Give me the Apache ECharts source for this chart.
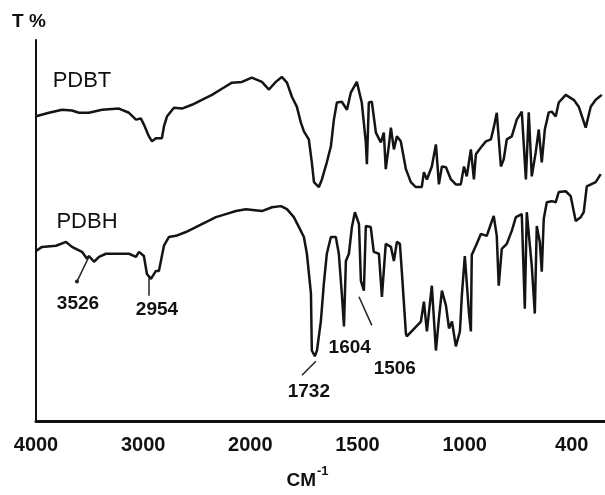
<!DOCTYPE html>
<html><head><meta charset="utf-8">
<script src="https://cdn.jsdelivr.net/npm/echarts@6/dist/echarts.min.js"></script>
<style>html,body{margin:0;padding:0;background:#fff}#c{width:605px;height:495px}</style>
</head><body><div id="c"></div>
<script>
// Tick labels (cm^-1), equally spaced on the drawn axis
const tickLabels = ['4000','3000','2000','1500','1000','400'];
const tickWavenumbers = [4000,3000,2000,1500,1000,400];

// Spectra: [wavenumber cm^-1, transmittance (arbitrary %)]
const pdbt = [[4000,80.0],[3879,80.9],[3757,81.7],[3664,81.5],[3599,80.9],[3506,80.9],[3384,81.7],[3226,82.0],[3132,80.9],[3067,79.1],[3021,79.4],[2993,77.8],[2946,74.7],[2918,73.4],[2881,74.2],[2825,74.2],[2806,77.3],[2778,79.9],[2713,82.2],[2638,82.0],[2545,83.0],[2452,84.3],[2358,85.6],[2265,87.2],[2172,88.8],[2078,89.0],[1993,90.1],[1946,89.0],[1913,87.0],[1881,89.0],[1853,90.3],[1829,88.8],[1806,85.1],[1783,82.5],[1764,78.3],[1750,76.0],[1727,73.9],[1713,67.9],[1703,62.7],[1680,61.4],[1666,63.4],[1643,67.9],[1624,72.1],[1610,79.1],[1596,83.6],[1573,83.8],[1549,81.7],[1531,86.2],[1503,89.0],[1480,83.6],[1461,73.1],[1456,67.4],[1447,83.6],[1433,83.8],[1414,75.7],[1391,73.1],[1377,75.7],[1368,66.1],[1354,72.1],[1344,77.0],[1330,71.3],[1316,74.7],[1298,73.4],[1274,66.1],[1251,62.7],[1228,61.4],[1200,61.4],[1190,65.3],[1176,63.4],[1153,66.8],[1134,72.6],[1120,62.1],[1106,66.8],[1087,66.6],[1064,63.4],[1041,62.1],[1018,62.1],[1003,66.8],[988,64.2],[965,71.3],[948,63.4],[937,70.0],[909,71.8],[881,73.4],[853,73.9],[837,77.0],[820,80.9],[797,66.8],[781,68.7],[764,73.9],[736,74.7],[708,79.1],[680,81.2],[657,63.4],[641,81.0],[624,64.2],[602,70.5],[585,76.5],[568,67.9],[551,76.5],[529,81.0],[512,81.2],[490,79.9],[473,83.6],[434,85.6],[389,84.3],[361,82.5],[322,77.0],[294,82.5],[266,84.3],[232,85.6]];

const pdbh = [[4000,44.6],[3944,45.7],[3813,46.0],[3720,47.0],[3664,45.7],[3571,44.4],[3524,42.6],[3506,43.3],[3459,41.8],[3412,43.1],[3347,43.9],[3132,43.9],[3067,43.1],[3039,44.4],[2993,43.3],[2965,38.6],[2927,37.3],[2881,39.4],[2853,39.4],[2825,43.3],[2806,46.0],[2759,48.3],[2694,48.6],[2601,49.6],[2508,50.9],[2414,52.2],[2321,53.5],[2228,54.3],[2134,55.1],[2041,55.6],[1946,55.1],[1899,56.1],[1857,56.4],[1829,55.6],[1797,53.5],[1773,50.9],[1750,48.3],[1736,43.9],[1717,33.4],[1713,18.5],[1699,17.0],[1689,18.5],[1671,26.1],[1657,36.0],[1643,43.9],[1624,48.3],[1601,48.3],[1587,43.9],[1573,33.4],[1563,24.8],[1554,42.0],[1540,43.9],[1526,50.9],[1512,54.8],[1493,51.7],[1484,36.8],[1470,34.2],[1461,51.2],[1438,50.9],[1424,44.4],[1400,43.9],[1386,32.6],[1368,46.5],[1344,45.7],[1330,42.0],[1316,47.0],[1302,46.5],[1293,39.2],[1274,23.0],[1270,22.2],[1204,26.1],[1190,31.3],[1176,23.5],[1153,35.5],[1134,18.5],[1120,26.9],[1106,34.2],[1087,30.3],[1073,24.3],[1059,26.1],[1041,19.6],[1022,23.5],[1013,32.9],[999,43.3],[976,28.5],[965,23.5],[960,43.6],[937,46.0],[909,49.1],[876,48.6],[853,51.7],[837,53.8],[820,48.6],[809,35.5],[792,45.2],[764,46.5],[736,49.9],[713,53.5],[680,54.3],[663,29.5],[652,54.8],[641,55.1],[624,40.7],[607,28.2],[596,51.2],[579,47.0],[568,39.2],[557,53.0],[540,57.4],[512,57.7],[490,57.4],[473,60.1],[434,60.3],[406,59.0],[378,52.5],[350,53.5],[333,54.8],[316,61.6],[266,62.7],[238,64.8]];

// Curve names and their label anchor [wavenumber, T]
const curveNames = ['PDBT','PDBH'];
const curveNameAnchors = [[3571,89.2],[3524,52.3]];

// Peak annotations: text, label anchor [w, T], pointer from/to [w, T]
const peakTexts = ['3526','2954','1732','1604','1506'];
const peakAnchors = [[3608,30.8],[2871,29.2],[1727,7.8],[1536,19.1],[1326,13.8]];
const pointerLines = [
  [[3506,43.1],[3618,36.6]],
  [[2946,37.9],[2946,32.9]],
  [[1694,15.7],[1759,12.0]],
  [[1493,32.6],[1433,25.1]]
];

function toU(w){
  const t = tickWavenumbers;
  if (w >= t[0]) return (t[0]-w)/(t[0]-t[1]);
  for (let i=0;i<t.length-1;i++){
    if (w <= t[i] && w >= t[i+1]) return i + (t[i]-w)/(t[i]-t[i+1]);
  }
  const n = t.length-1;
  return n + (t[n]-w)/(t[n-1]-t[n]);
}
const conv = arr => arr.map(p => [toU(p[0]), p[1]]);

const chart = echarts.init(document.getElementById('c'));
const FONT = '"Liberation Sans", Arial, sans-serif';
const INK = '#111';

const annData = [];
curveNames.forEach((n,i)=>annData.push({
  value:[toU(curveNameAnchors[i][0]), curveNameAnchors[i][1]],
  label:{show:true, position:'inside', formatter:n, fontSize:22, fontWeight:'normal', color:INK, fontFamily:FONT, textBorderWidth:0, opacity:1}
}));
peakTexts.forEach((n,i)=>annData.push({
  value:[toU(peakAnchors[i][0]), peakAnchors[i][1]],
  label:{show:true, position:'inside', formatter:n, fontSize:19, fontWeight:'bold', color:INK, fontFamily:FONT, textBorderWidth:0, opacity:1}
}));

chart.setOption({
  animation:false,
  grid:{left:36,right:0,top:40,bottom:73},
  xAxis:{
    type:'value', min:0, max:5.31, interval:1,
    axisLine:{show:true, onZero:false, lineStyle:{color:INK, width:3}},
    axisTick:{show:false}, splitLine:{show:false},
    axisLabel:{
      margin:14, color:INK, fontSize:20, fontWeight:'bold', fontFamily:FONT,
      formatter:v=>{const i=Math.round(v); return Math.abs(v-i)<1e-6 && tickLabels[i]!==undefined ? tickLabels[i] : '';},
      showMaxLabel:false
    },
    name:'{b|CM}{s|-1}', nameLocation:'middle', nameGap:44,
    nameTextStyle:{padding:[0,26,0,0], rich:{
      b:{fontSize:19, fontWeight:'bold', color:INK, fontFamily:FONT, lineHeight:22, verticalAlign:'bottom'},
      s:{fontSize:13, fontWeight:'bold', color:INK, fontFamily:FONT, verticalAlign:'top', padding:[0,0,12,1]}
    }}
  },
  yAxis:{
    type:'value', min:0, max:100,
    axisLine:{show:true, lineStyle:{color:INK, width:2}},
    axisTick:{show:false}, axisLabel:{show:false}, splitLine:{show:false},
    name:'T %', nameLocation:'end', nameGap:9,
    nameTextStyle:{fontSize:19, fontWeight:'bold', color:INK, fontFamily:FONT, padding:[0,14,0,0]}
  },
  series:[
    {type:'line', name:'PDBT', data:conv(pdbt), symbol:'none', lineStyle:{color:'#141414', width:2.5}, silent:true},
    {type:'line', name:'PDBH', data:conv(pdbh), symbol:'none', lineStyle:{color:'#141414', width:2.5}, silent:true},
    {type:'scatter', data:annData, symbolSize:0, silent:true, itemStyle:{color:INK, opacity:1},
      markLine:{silent:true, symbol:['none','none'], label:{show:false},
        lineStyle:{color:'#222', width:1.5, type:'solid', opacity:1},
        data:pointerLines.map(l=>[{coord:[toU(l[0][0]),l[0][1]]},{coord:[toU(l[1][0]),l[1][1]]}])
      }
    },
    {type:'scatter', data:[[toU(pointerLines[0][1][0]), pointerLines[0][1][1]]], symbol:'circle', symbolSize:4,
      itemStyle:{color:'#222', opacity:1}, silent:true}
  ]
});
</script></body></html>
